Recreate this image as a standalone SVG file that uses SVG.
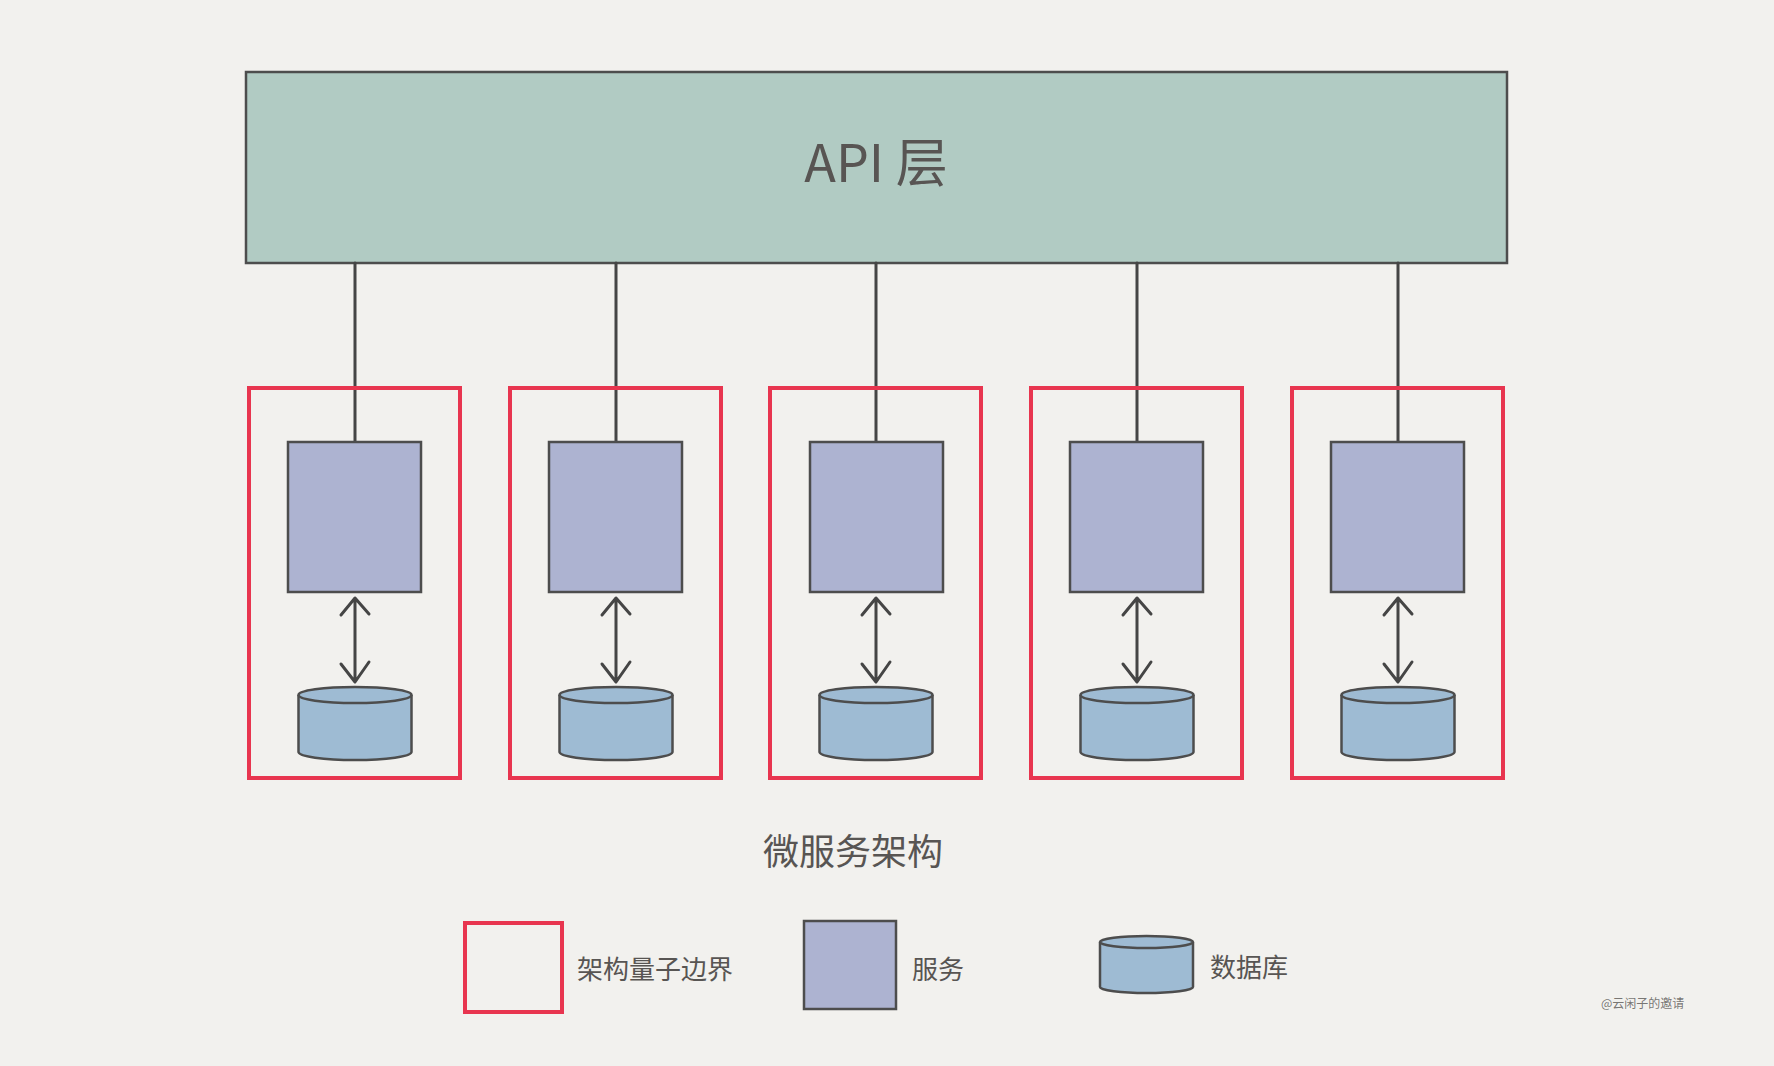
<svg xmlns="http://www.w3.org/2000/svg" width="1774" height="1066" viewBox="0 0 1774 1066">
<defs>
<style>
.txt{font-family:"Noto Sans CJK SC","Noto Sans",sans-serif;fill:#585553;}
.boundary{fill:none;stroke:#e8354f;stroke-width:4;}
.svc{fill:#adb3d1;stroke:#4d4d4d;stroke-width:2.5;}
.db{fill:#9ebbd3;stroke:#4d4d4d;stroke-width:2.5;}
.api{fill:#b1cbc3;stroke:#4d4d4d;stroke-width:2.5;}
.conn{fill:none;stroke:#454545;stroke-width:3;stroke-linecap:round;stroke-linejoin:round;}
</style>
<g id="cyl">
<path class="db" d="M-56.5,0 L-56.5,57 A56.5,8 0 0 0 56.5,57 L56.5,0"/>
<ellipse class="db" cx="0" cy="0" rx="56.5" ry="8"/>
</g>
</defs>
<rect x="0" y="0" width="1774" height="1066" fill="#f2f1ee"/>

<g id="api-layer">
<rect class="api" x="246" y="72" width="1261" height="191"/>
<text class="txt" x="876" y="182" font-size="52" text-anchor="middle">API 层</text>
</g>

<g id="connectors">
<line class="conn" x1="355" y1="263" x2="355" y2="442"/>
<line class="conn" x1="616" y1="263" x2="616" y2="442"/>
<line class="conn" x1="876" y1="263" x2="876" y2="442"/>
<line class="conn" x1="1137" y1="263" x2="1137" y2="442"/>
<line class="conn" x1="1398" y1="263" x2="1398" y2="442"/>
<g id="db-arrows">
<path class="conn" d="M355,600 L355,680 M341,615 L355,598 L369,614 M341,664 L355,682 L369,662"/>
<path class="conn" d="M616,600 L616,680 M602,615 L616,598 L630,614 M602,664 L616,682 L630,662"/>
<path class="conn" d="M876,600 L876,680 M862,615 L876,598 L890,614 M862,664 L876,682 L890,662"/>
<path class="conn" d="M1137,600 L1137,680 M1123,615 L1137,598 L1151,614 M1123,664 L1137,682 L1151,662"/>
<path class="conn" d="M1398,600 L1398,680 M1384,615 L1398,598 L1412,614 M1384,664 L1398,682 L1412,662"/>
</g>
</g>

<g id="quantum-1">
<rect class="boundary" x="249" y="388" width="211" height="390"/>
<rect class="svc" x="288" y="442" width="133" height="150"/>
<use href="#cyl" x="355" y="695"/>
</g>
<g id="quantum-2">
<rect class="boundary" x="510" y="388" width="211" height="390"/>
<rect class="svc" x="549" y="442" width="133" height="150"/>
<use href="#cyl" x="616" y="695"/>
</g>
<g id="quantum-3">
<rect class="boundary" x="770" y="388" width="211" height="390"/>
<rect class="svc" x="810" y="442" width="133" height="150"/>
<use href="#cyl" x="876" y="695"/>
</g>
<g id="quantum-4">
<rect class="boundary" x="1031" y="388" width="211" height="390"/>
<rect class="svc" x="1070" y="442" width="133" height="150"/>
<use href="#cyl" x="1137" y="695"/>
</g>
<g id="quantum-5">
<rect class="boundary" x="1292" y="388" width="211" height="390"/>
<rect class="svc" x="1331" y="442" width="133" height="150"/>
<use href="#cyl" x="1398" y="695"/>
</g>

<g id="title">
<text class="txt" x="853" y="865" font-size="36" text-anchor="middle">微服务架构</text>
</g>

<g id="legend-boundary">
<rect class="boundary" x="465" y="923" width="97" height="89"/>
<text class="txt" x="577" y="979" font-size="26">架构量子边界</text>
</g>
<g id="legend-service">
<rect class="svc" x="804" y="921" width="92" height="88"/>
<text class="txt" x="912" y="979" font-size="26">服务</text>
</g>
<g id="legend-db">
<path class="db" d="M1100,942 L1100,987 A46.5,6 0 0 0 1193,987 L1193,942"/>
<ellipse class="db" cx="1146.5" cy="942" rx="46.5" ry="6"/>
<text class="txt" x="1210" y="977" font-size="26">数据库</text>
</g>

<g id="watermark">
<text class="txt" x="1601" y="1008" font-size="12" fill-opacity="0.8">@云闲子的邀请</text>
</g>
</svg>
